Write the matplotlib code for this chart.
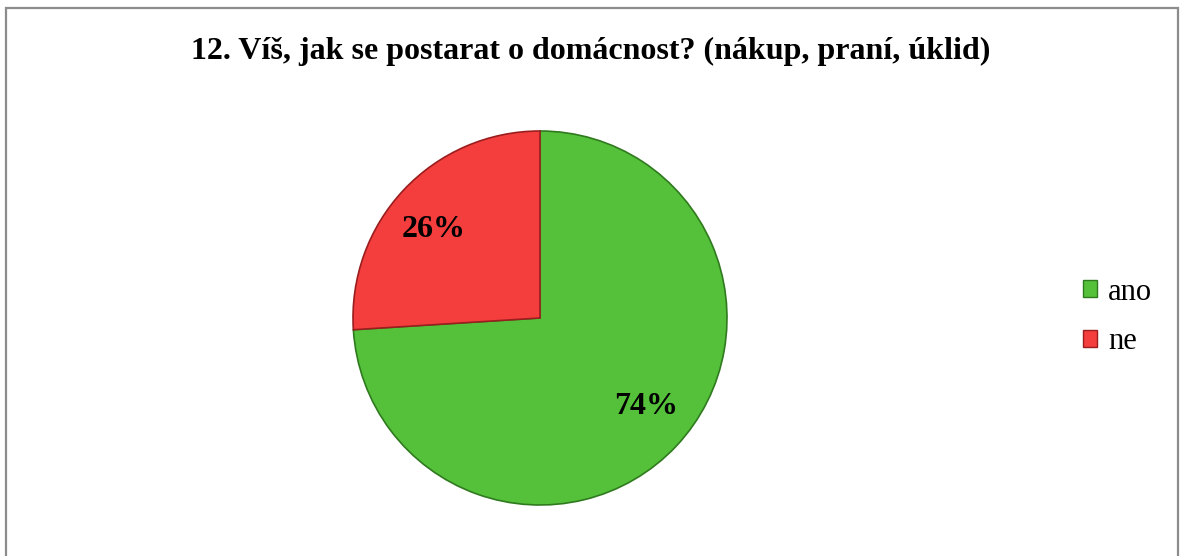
import numpy as np
import matplotlib.pyplot as plt
from matplotlib.patches import Patch, Rectangle

# data
kategorie = ['ano', 'ne']
hodnoty = [74, 26]
barvy = ['#55C13A', '#F43D3D']
okraje = ['#2F7A1E', '#9A1E1E']
titulek = '12. Víš, jak se postarat o domácnost? (nákup, praní, úklid)'

plt.rcParams['font.family'] = ['Liberation Serif', 'DejaVu Serif']

fig = plt.figure(figsize=(11.8, 5.56), dpi=100)
fig.patch.set_facecolor('white')

# ramecek kolem grafu
fig.patches.append(Rectangle((6 / 1180, -0.05), 1172 / 1180, (548 / 556) + 0.05,
                             transform=fig.transFigure, fill=False,
                             edgecolor='#8C8C8C', linewidth=1.6))

fig.text(591 / 1180, 1 - 51 / 556, titulek, ha='center', va='center',
         fontsize=23, fontweight='bold')

# kolac: stred (540, 318) px, polomer 187 px
ax = fig.add_axes([(540 - 187) / 1180, (556 - 318 - 187) / 556, 374 / 1180, 374 / 556])
wedges, texts, autotexts = ax.pie(hodnoty, colors=barvy, startangle=90, counterclock=False,
                                  autopct='%d%%', pctdistance=0.74,
                                  wedgeprops=dict(linewidth=1.2))
for w, e, t in zip(wedges, okraje, autotexts):
    w.set_edgecolor(e)
    # popisky jsou v Excelu trochu pootocene proti smeru hodin
    uhel = np.deg2rad((w.theta1 + w.theta2) / 2 + 3.5)
    t.set_position((0.74 * np.cos(uhel), 0.74 * np.sin(uhel)))
    t.set_fontsize(23)
    t.set_fontweight('bold')
ax.set_xlim(-1, 1)
ax.set_ylim(-1, 1)
ax.set_aspect('equal')
ax.axis('off')

handles = [Patch(facecolor=b, edgecolor=e) for b, e in zip(barvy, okraje)]
fig.legend(handles, kategorie, loc='center left', bbox_to_anchor=(1083 / 1180, 1 - 317 / 556),
           frameon=False, fontsize=22, handlelength=0.46, handleheight=0.46,
           handletextpad=0.36, labelspacing=0.68, borderpad=0, borderaxespad=0)

fig.savefig('out.png', dpi=100)
